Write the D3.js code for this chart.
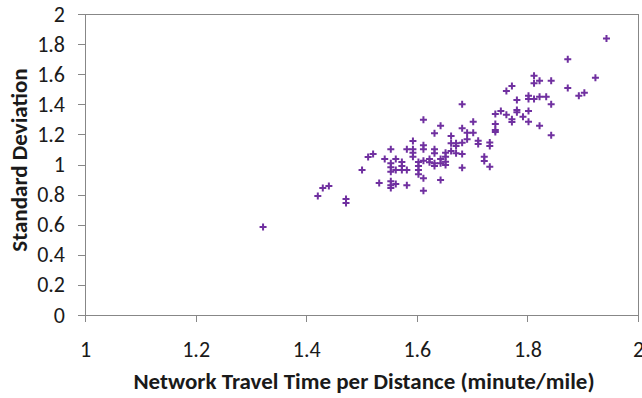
<!DOCTYPE html>
<html><head><meta charset="utf-8">
<script src="https://cdn.jsdelivr.net/npm/d3@7"></script>
<style>
body{margin:0;background:#fff;}
text{font-family:Carlito, Calibri, Lato, "Open Sans", sans-serif;fill:#1a1a1a;}
</style></head>
<body><svg id="c" width="642" height="398"></svg>
<script>
const xValues = [1.322,1.421,1.430,1.441,1.472,1.472,1.501,1.512,1.521,1.532,1.542,
1.612,1.643,1.632,1.593,1.553,1.582,1.593,1.593,1.593,1.612,1.612,1.632,1.632,1.562,
1.553,1.553,1.553,1.573,1.573,1.573,1.562,1.582,1.603,1.603,1.603,1.603,1.612,1.612,
1.623,1.623,1.632,1.632,1.643,1.643,1.643,1.553,1.553,1.553,1.562,1.582,1.612,
1.772,1.762,1.781,1.742,1.752,1.762,1.781,1.781,1.772,1.772,1.742,1.742,1.742,
1.682,1.702,1.682,1.691,1.702,1.662,1.691,1.711,1.711,1.732,1.732,1.662,1.671,1.671,
1.682,1.652,1.662,1.671,1.682,1.652,1.652,1.652,1.722,1.722,1.732,1.682,
1.943,1.873,1.923,1.873,1.903,1.893,1.812,1.812,1.822,1.843,1.802,1.802,1.812,1.822,
1.834,1.843,1.802,1.792,1.802,1.822,1.843];
const yValues = [0.585,0.791,0.844,0.857,0.771,0.744,0.963,1.050,1.070,0.877,1.037,
1.298,1.258,1.207,1.156,1.101,1.101,1.101,1.078,1.052,1.128,1.101,1.101,1.074,1.037,
1.008,0.981,0.952,1.017,0.990,0.963,0.963,0.963,1.017,0.990,0.963,0.935,1.025,0.908,
1.037,1.015,1.008,0.990,1.037,1.008,0.897,0.888,0.862,0.844,0.870,0.862,0.826,
1.522,1.488,1.429,1.336,1.355,1.331,1.362,1.347,1.300,1.282,1.269,1.229,1.216,
1.400,1.284,1.241,1.211,1.211,1.189,1.167,1.158,1.136,1.147,1.123,1.141,1.141,1.123,
1.145,1.078,1.090,1.074,1.070,1.052,1.019,0.997,1.052,1.023,0.985,0.979,
1.838,1.699,1.577,1.508,1.477,1.457,1.590,1.540,1.557,1.557,1.457,1.435,1.435,1.450,
1.450,1.400,1.355,1.318,1.284,1.258,1.194];
const xTicks = [1, 1.2, 1.4, 1.6, 1.8, 2];
const yTicks = [0, 0.2, 0.4, 0.6, 0.8, 1, 1.2, 1.4, 1.6, 1.8, 2];
const xTitle = "Network Travel Time per Distance (minute/mile)";
const yTitle = "Standard Deviation";

const svg = d3.select("#c");
const L = 85, R = 638, T = 14, B = 315;
const x = d3.scaleLinear().domain([1, 2]).range([L, R]);
const y = d3.scaleLinear().domain([0, 2]).range([B, T]);
const grey = "#878787";

svg.append("rect").attr("x", L).attr("y", T).attr("width", R - L).attr("height", B - T)
  .attr("fill", "none").attr("stroke", grey).attr("stroke-width", 1)
  .attr("shape-rendering", "crispEdges");

const fmt = d => d3.format("~g")(d);
const xa = svg.append("g").attr("transform", `translate(0,${B})`)
  .call(d3.axisBottom(x).tickValues(xTicks).tickFormat(fmt).tickSize(7).tickPadding(19));
const ya = svg.append("g").attr("transform", `translate(${L},0)`)
  .call(d3.axisLeft(y).tickValues(yTicks).tickFormat(fmt).tickSize(7).tickPadding(13));
[xa, ya].forEach(a => {
  a.select(".domain").attr("stroke", grey).attr("shape-rendering", "crispEdges");
  a.selectAll(".tick line").attr("stroke", grey).attr("shape-rendering", "crispEdges");
  a.selectAll(".tick text").style("font-size", "22px").attr("fill", "#1a1a1a")
    .style("font-family", "Carlito, Calibri, Lato, sans-serif");
});

svg.append("text").attr("x", 364).attr("y", 389).attr("text-anchor", "middle")
  .style("font-size", "23px").style("font-weight", "bold").text(xTitle);
svg.append("text").attr("transform", `translate(27,160) rotate(-90)`)
  .attr("text-anchor", "middle").style("font-size", "23px").style("font-weight", "bold").text(yTitle);

const pts = xValues.map((v, i) => [v, yValues[i]]);
svg.append("g").selectAll("path").data(pts).join("path")
  .attr("transform", d => `translate(${x(d[0])},${y(d[1])})`)
  .attr("d", "M-3.5,0H3.5M0,-3.5V3.5")
  .attr("stroke", "#7030a0").attr("stroke-width", 2).attr("fill", "none");
</script></body></html>
